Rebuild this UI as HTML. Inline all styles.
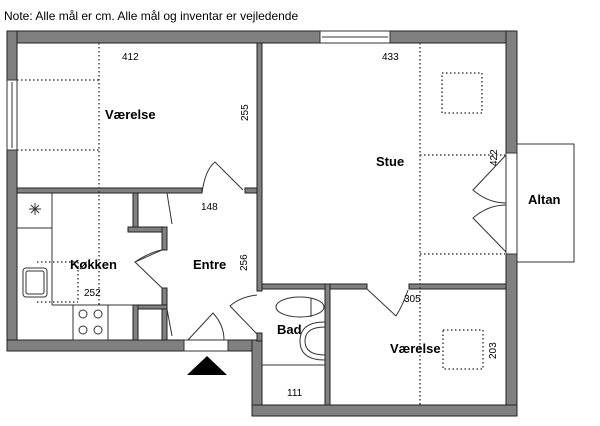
<!DOCTYPE html>
<html><head><meta charset="utf-8"><style>
html,body{margin:0;padding:0;background:#fff;}
svg{display:block;font-family:"Liberation Sans",Arial,sans-serif;}
.w{fill:#808080;stroke:#222;stroke-width:1;}
.l{stroke:#333;stroke-width:1;fill:none;}
.d{stroke:#444;stroke-width:1.5;stroke-dasharray:1.5 2.5;fill:none;}
.t{font-weight:bold;font-size:13px;fill:#000;}
.n{font-size:10px;fill:#000;}
</style></head><body>
<svg width="600" height="426" viewBox="0 0 600 426">
<rect width="600" height="426" fill="#fff"/>
<text x="4" y="20" font-size="12" fill="#000">Note: Alle mål er cm. Alle mål og inventar er vejledende</text>

<!-- outer walls -->
<rect class="w" x="7" y="31" width="510" height="12"/>
<rect class="w" x="7" y="31" width="10" height="320"/>
<rect class="w" x="506" y="31" width="11" height="385"/>
<rect class="w" x="7" y="340" width="177" height="11"/>
<rect class="w" x="228" y="340" width="34" height="11"/>
<rect class="w" x="252" y="340" width="10" height="76"/>
<rect class="w" x="252" y="405" width="265" height="11"/>
<!-- interior walls -->
<rect class="w" x="257" y="43" width="5" height="248"/>
<rect class="w" x="257" y="333" width="5" height="8"/>
<rect class="w" x="17" y="188" width="185" height="5"/>
<rect class="w" x="245" y="188" width="12" height="5"/>
<rect class="w" x="262" y="284" width="68" height="5"/>
<rect class="w" x="325" y="284" width="5" height="121"/>
<rect class="w" x="409" y="284" width="97" height="5"/>
<rect class="w" x="330" y="284" width="37" height="5"/>
<!-- entre closets -->
<rect class="w" x="133" y="193" width="5" height="39"/>
<rect class="w" x="128" y="227" width="39" height="5"/>
<rect class="w" x="162" y="227" width="5" height="23"/>
<rect class="w" x="162" y="288" width="5" height="52"/>
<rect class="w" x="133" y="305" width="34" height="4"/>
<rect class="w" x="133" y="305" width="5" height="35"/>
<line class="l" x1="167" y1="193" x2="172" y2="224"/>
<line class="l" x1="167" y1="309" x2="172" y2="336"/>

<!-- windows -->
<rect x="320" y="31" width="70" height="12" fill="#fff" stroke="#333"/>
<line class="l" x1="322" y1="37" x2="388" y2="37"/>
<rect x="7" y="80" width="10" height="70" fill="#fff" stroke="#333"/>
<line class="l" x1="12" y1="82" x2="12" y2="148"/>
<rect x="506" y="153" width="11" height="101" fill="#fff" stroke="#333"/>
<rect class="l" x="517" y="144" width="57" height="118"/>

<!-- entry door gap -->
<rect x="184" y="340" width="44" height="11" fill="#fff" stroke="#333"/>
<polygon points="187,375 227,375 207,356" fill="#000"/>
<path class="l" d="M188,340 L213,313 Q224,325 224,340"/>

<!-- doors -->
<path class="l" d="M202,193 Q205,170 215,162 L243,190"/>
<path class="l" d="M162,250 L135,262 L162,288"/>
<path class="l" d="M162,250 Q150,252 135,262"/>
<path class="l" d="M257,295 Q240,297 230,306 L257,334"/>
<path class="l" d="M367,289 L396,316 Q403,305 408,290"/>
<path class="l" d="M506,155 L473,190 Q488,203 506,203 M506,205 Q488,205 473,218 L506,252"/>

<!-- kitchen -->
<line class="l" x1="17" y1="228" x2="52" y2="228"/>
<line class="l" x1="52" y1="193" x2="52" y2="305"/>
<line class="l" x1="52" y1="305" x2="133" y2="305"/>
<rect class="l" x="73" y="305" width="35" height="35"/>
<line class="l" x1="108" y1="305" x2="108" y2="340"/>
<circle class="l" cx="83" cy="314" r="4"/><circle class="l" cx="98" cy="314" r="4"/>
<circle class="l" cx="83" cy="330" r="4"/><circle class="l" cx="98" cy="330" r="4"/>
<rect class="l" x="23" y="268" width="24" height="29" rx="3"/>
<rect class="l" x="26" y="271" width="18" height="23" rx="2"/>
<path class="l" d="M29,209 L41,209 M35,203 L35,215 M31,205 L39,213 M39,205 L31,213"/>
<!-- bad -->
<ellipse class="l" cx="300" cy="307" rx="24" ry="10"/>
<line class="l" x1="311" y1="298" x2="311" y2="317"/>
<path class="l" d="M325,322 Q300,322 300,341 Q300,360 325,360"/>
<path class="l" d="M325,327 Q305,327 305,341 Q305,355 325,355"/>
<line class="l" x1="262" y1="365" x2="325" y2="365"/>

<!-- dotted guides -->
<line class="d" x1="99" y1="43" x2="99" y2="305"/>
<line class="d" x1="17" y1="80" x2="99" y2="80"/>
<line class="d" x1="17" y1="150" x2="99" y2="150"/>
<line class="d" x1="37" y1="262" x2="78" y2="262"/>
<line class="d" x1="78" y1="262" x2="78" y2="302"/>
<line class="d" x1="37" y1="302" x2="78" y2="302"/>
<line class="d" x1="420" y1="43" x2="420" y2="405"/>
<line class="d" x1="420" y1="155" x2="505" y2="155"/>
<line class="d" x1="420" y1="254" x2="505" y2="254"/>
<rect class="d" x="442" y="73" width="40" height="40"/>
<rect class="d" x="443" y="330" width="40" height="39"/>

<!-- labels -->
<text class="t" x="105" y="119">Værelse</text>
<text class="t" x="376" y="166">Stue</text>
<text class="t" x="528" y="204">Altan</text>
<text class="t" x="70" y="269">Køkken</text>
<text class="t" x="193" y="269">Entre</text>
<text class="t" x="277" y="334">Bad</text>
<text class="t" x="390" y="353">Værelse</text>
<text class="n" x="122" y="60">412</text>
<text class="n" x="382" y="60">433</text>
<text class="n" x="201" y="210">148</text>
<text class="n" x="84" y="296">252</text>
<text class="n" x="404" y="302">305</text>
<text class="n" x="287" y="396">111</text>
<text class="n" transform="translate(248,121) rotate(-90)">255</text>
<text class="n" transform="translate(247,271) rotate(-90)">256</text>
<text class="n" transform="translate(497,166) rotate(-90)">422</text>
<text class="n" transform="translate(496,359) rotate(-90)">203</text>
</svg>
</body></html>
